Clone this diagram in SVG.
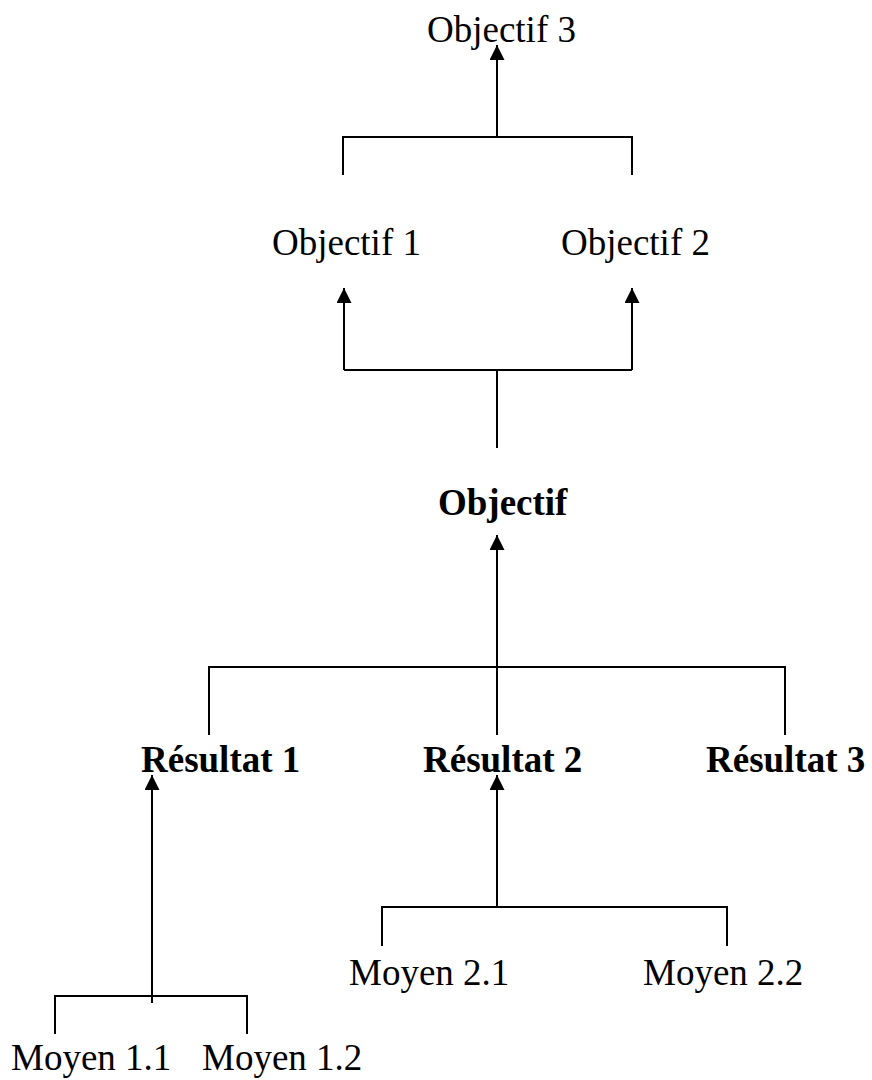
<svg xmlns="http://www.w3.org/2000/svg" width="872" height="1080" viewBox="0 0 872 1080">
<style>
  .t { font-family: "Liberation Serif", "Times New Roman", serif; font-size: 37px; fill: #000; }
  .b { font-weight: bold; }
  .c { fill: none; stroke: #000; stroke-width: 2; }
</style>
<defs>
  <marker id="ah" markerUnits="userSpaceOnUse" markerWidth="15" markerHeight="15" viewBox="0 0 15 15" refX="15" refY="7.5" orient="auto">
    <path d="M0,0 L15,7.5 L0,15 z" fill="#000"/>
  </marker>
</defs>
<rect width="872" height="1080" fill="#fff"/>
<g id="connectors">
  <path class="c" d="M497,138 V45" marker-end="url(#ah)"/>
  <path class="c" d="M343,175 V137 H632 V175"/>
  <path class="c" d="M344,370 V288" marker-end="url(#ah)"/>
  <path class="c" d="M632,370 V288" marker-end="url(#ah)"/>
  <path class="c" d="M344,370 H632"/>
  <path class="c" d="M497,370 V448"/>
  <path class="c" d="M497,667 V535" marker-end="url(#ah)"/>
  <path class="c" d="M209,735 V667 H785 V735"/>
  <path class="c" d="M497,667 V735"/>
  <path class="c" d="M152,1003 V775" marker-end="url(#ah)"/>
  <path class="c" d="M55,1034 V996 H247 V1034"/>
  <path class="c" d="M497,907 V775" marker-end="url(#ah)"/>
  <path class="c" d="M382,946 V907 H727 V946"/>
</g>
<g id="objectif3"><text class="t" x="427" y="42">Objectif 3</text></g>
<g id="objectif1"><text class="t" x="272" y="255">Objectif 1</text></g>
<g id="objectif2"><text class="t" x="561" y="255">Objectif 2</text></g>
<g id="objectif"><text class="t b" x="438" y="515">Objectif</text></g>
<g id="resultat1"><text class="t b" x="141" y="772">Résultat 1</text></g>
<g id="resultat2"><text class="t b" x="423" y="772">Résultat 2</text></g>
<g id="resultat3"><text class="t b" x="706" y="772">Résultat 3</text></g>
<g id="moyen11"><text class="t" x="11" y="1070">Moyen 1.1</text></g>
<g id="moyen12"><text class="t" x="202" y="1070">Moyen 1.2</text></g>
<g id="moyen21"><text class="t" x="349" y="985">Moyen 2.1</text></g>
<g id="moyen22"><text class="t" x="643" y="985">Moyen 2.2</text></g>
</svg>
